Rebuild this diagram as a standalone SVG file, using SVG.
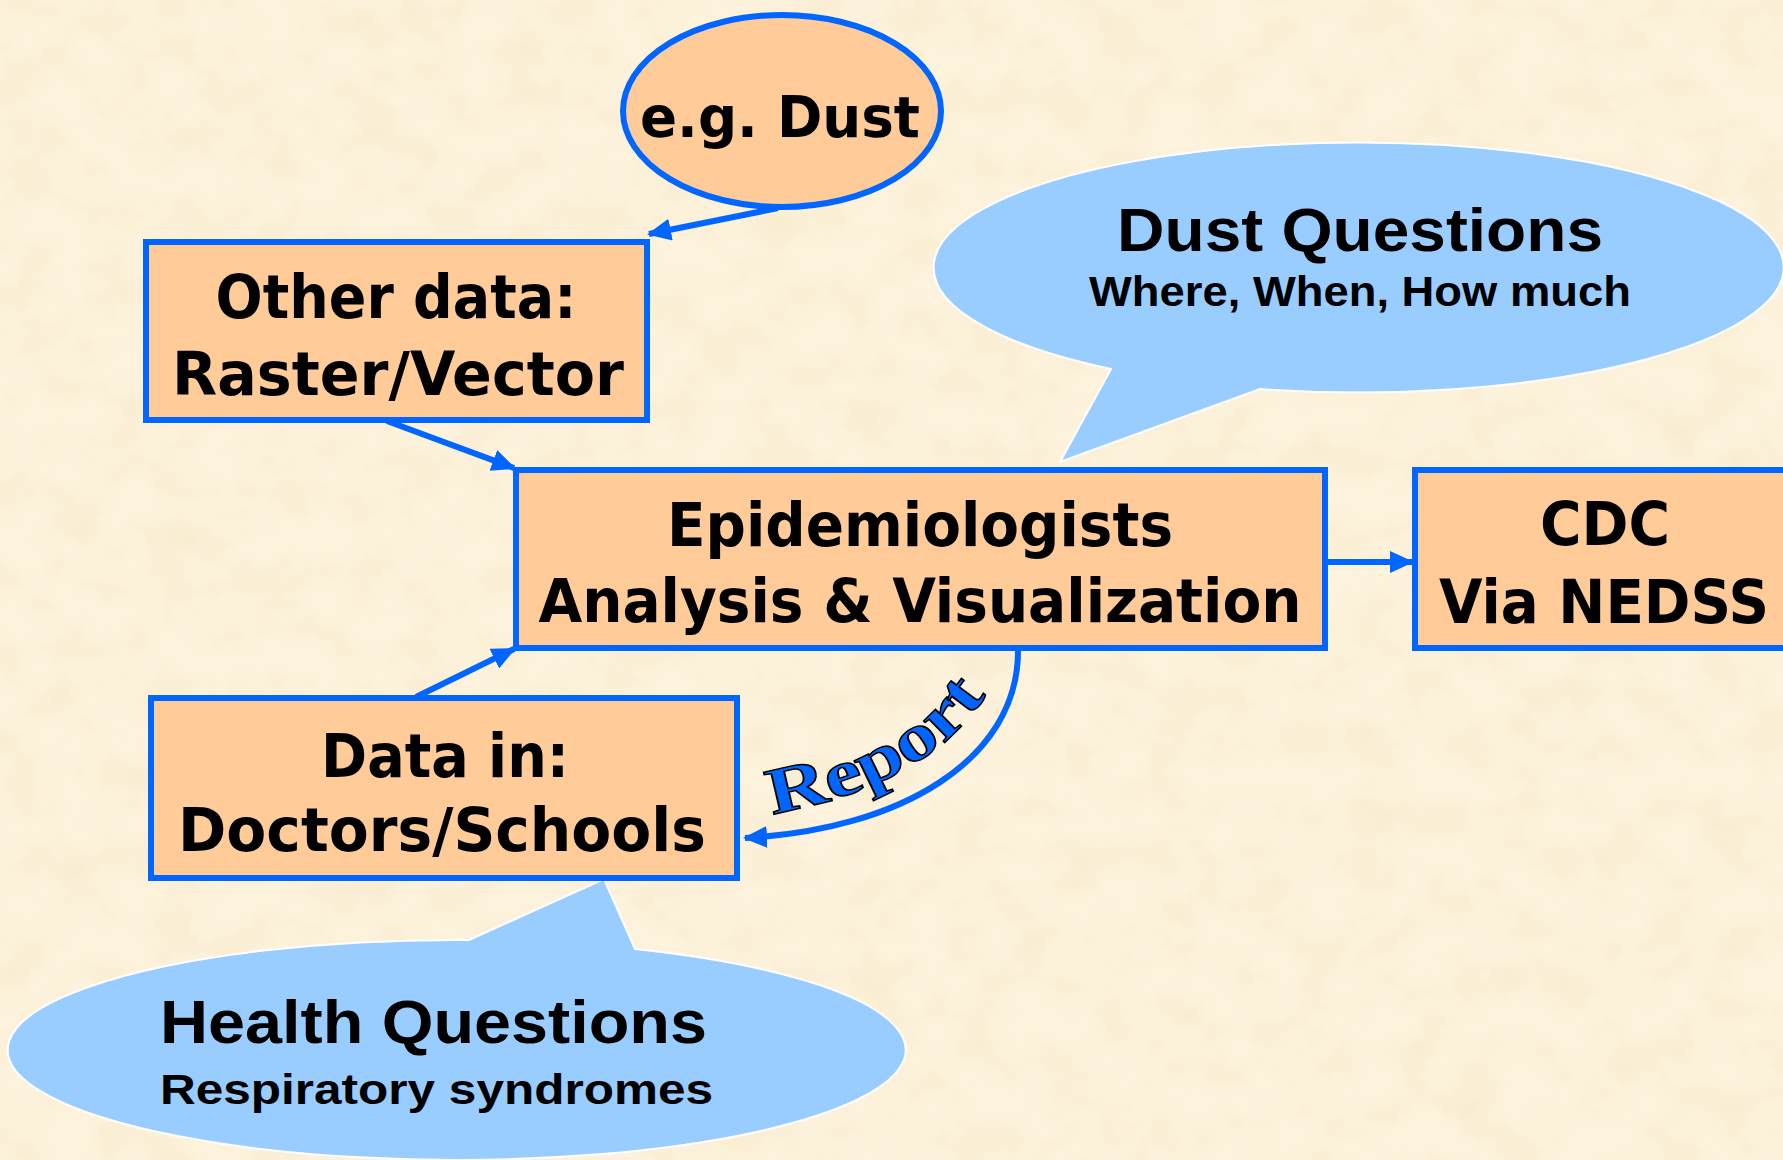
<svg xmlns="http://www.w3.org/2000/svg" width="1783" height="1160" viewBox="0 0 1783 1160">
  <style>
    .box { fill: #FFCC99; stroke: #0066FF; stroke-width: 6; }
    .bubble { fill: #99CCFF; stroke: #FFFFFF; stroke-width: 2; }
    .lbl { font-family: "DejaVu Sans", "Liberation Sans", sans-serif; font-weight: bold; font-size: 60px; fill: #000; text-anchor: middle; }
    .q1 { font-family: "Liberation Sans Narrow", "Liberation Sans", sans-serif; font-weight: bold; font-size: 62px; fill: #000; }
    .q2 { font-family: "Liberation Sans Narrow", "Liberation Sans", sans-serif; font-weight: bold; font-size: 42px; fill: #000; }
    .conn { fill: none; stroke: #0066FF; stroke-width: 6; marker-end: url(#arrow); }
    .report { font-family: "Liberation Serif", "DejaVu Serif", serif; font-weight: bold; font-size: 66px; fill: #0066FF; stroke: #000; stroke-width: 1.5; }
  </style>
  <defs>
    <marker id="arrow" markerUnits="userSpaceOnUse" markerWidth="26" markerHeight="24" refX="22" refY="11" orient="auto">
      <path d="M0,0 L24,11 L0,22 z" fill="#0066FF"/>
    </marker>
    <!-- mottled parchment backdrop -->
    <filter id="paper" x="0" y="0" width="100%" height="100%">
      <feTurbulence type="fractalNoise" baseFrequency="0.02 0.025" numOctaves="3" seed="7"/>
      <feColorMatrix type="matrix" values="0 0 0 0 0.90  0 0 0 0 0.80  0 0 0 0 0.55  1.8 0 0 0 -0.70"/>
    </filter>
    <path id="reportPath" d="M772,814 C850,800 932,770 980,704"/>
  </defs>

  <rect width="1783" height="1160" fill="#FDF2DC"/>
  <rect width="1783" height="1160" filter="url(#paper)" opacity="0.5"/>

  <!-- speech bubbles -->
  <g id="dust-questions">
    <path class="bubble" d="M1111,369 L1060,462 L1260,389 A425,125 0 1 0 1111,369 Z"/>
    <text class="q1" x="1360" y="251" text-anchor="middle" textLength="486" lengthAdjust="spacingAndGlyphs">Dust Questions</text>
    <text class="q2" x="1360" y="306" text-anchor="middle" textLength="542" lengthAdjust="spacingAndGlyphs">Where, When, How much</text>
  </g>
  <g id="health-questions">
    <path class="bubble" d="M469,940 L604,879 L635,949 A449,110 0 1 1 469,940 Z"/>
    <text class="q1" x="160" y="1043" textLength="547" lengthAdjust="spacingAndGlyphs">Health Questions</text>
    <text class="q2" x="160" y="1104" textLength="553" lengthAdjust="spacingAndGlyphs">Respiratory syndromes</text>
  </g>

  <!-- nodes -->
  <g id="eg-dust">
    <ellipse class="box" cx="782" cy="111" rx="159" ry="96"/>
    <text class="lbl" x="780" y="137" style="font-size:57px" textLength="280" lengthAdjust="spacingAndGlyphs">e.g. Dust</text>
  </g>
  <g id="other-data">
    <rect class="box" x="146" y="242" width="501" height="178"/>
    <text class="lbl" x="396" y="318" textLength="361" lengthAdjust="spacingAndGlyphs">Other data:</text>
    <text class="lbl" x="398" y="395" textLength="452" lengthAdjust="spacingAndGlyphs">Raster/Vector</text>
  </g>
  <g id="epidemiologists">
    <rect class="box" x="516" y="470" width="809" height="178"/>
    <text class="lbl" x="920" y="546" textLength="506" lengthAdjust="spacingAndGlyphs">Epidemiologists</text>
    <text class="lbl" x="920" y="622" textLength="763" lengthAdjust="spacingAndGlyphs">Analysis &amp; Visualization</text>
  </g>
  <g id="cdc">
    <rect class="box" x="1415" y="470" width="382" height="178"/>
    <text class="lbl" x="1605" y="545" textLength="130" lengthAdjust="spacingAndGlyphs">CDC</text>
    <text class="lbl" x="1604" y="623" textLength="330" lengthAdjust="spacingAndGlyphs">Via NEDSS</text>
  </g>
  <g id="data-in">
    <rect class="box" x="151" y="698" width="586" height="180"/>
    <text class="lbl" x="445" y="777" textLength="248" lengthAdjust="spacingAndGlyphs">Data in:</text>
    <text class="lbl" x="442" y="851" textLength="528" lengthAdjust="spacingAndGlyphs">Doctors/Schools</text>
  </g>

  <!-- connectors -->
  <g id="connectors">
    <line class="conn" x1="778" y1="208" x2="649" y2="234"/>
    <line class="conn" x1="387" y1="421" x2="514" y2="468"/>
    <line class="conn" x1="416" y1="697" x2="514" y2="649"/>
    <line class="conn" x1="1328" y1="562" x2="1412" y2="562"/>
    <path class="conn" d="M1018,651 C1018,760 900,830 745,838"/>
    <text class="report"><textPath href="#reportPath" textLength="252" lengthAdjust="spacingAndGlyphs">Report</textPath></text>
  </g>
</svg>
